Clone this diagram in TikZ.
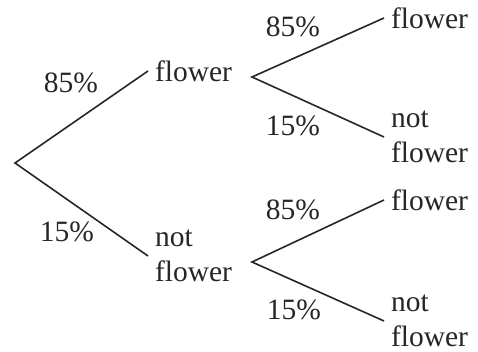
\documentclass[tikz,border=0pt]{standalone}
\usepackage{fontspec}
\setmainfont{Liberation Serif}
\usepackage{xcolor}
\usepackage{tikz}
\begin{document}
\begin{tikzpicture}[x=1pt,y=-1pt,
  every node/.style={text=black!85,font=\fontsize{29.5}{35}\selectfont},
  lbl/.style={inner sep=0pt,outer sep=7pt,anchor=west,align=left},
  pct/.style={inner sep=0pt},
  branch/.style={line width=1.6pt,black!85}]
\useasboundingbox (0,0) rectangle (478,352);
% forks
\coordinate (root) at (15,163);
\coordinate (fork1) at (252,77);
\coordinate (fork2) at (252,262);
% outcomes
\node[lbl] (f) at (148,71) {flower};
\node[lbl] (nf) at (148,256) {not\\flower};
\node[lbl] (ff) at (384,18) {flower};
\node[lbl] (fnf) at (384,137) {not\\flower};
\node[lbl] (nff) at (384,200) {flower};
\node[lbl] (nfnf) at (384,321) {not\\flower};
% branches
\draw[branch] (f.west) -- (root) -- (nf.west);
\draw[branch] (ff.west) -- (fork1) -- (fnf.west);
\draw[branch] (nff.west) -- (fork2) -- (nfnf.west);
% probabilities
\node[pct] (p1) at (71,83) {85\%};
\node[pct] (p2) at (67,232) {15\%};
\node[pct] (p3) at (293,27) {85\%};
\node[pct] (p4) at (293,126) {15\%};
\node[pct] (p5) at (293,210) {85\%};
\node[pct] (p6) at (294,310) {15\%};
\end{tikzpicture}
\end{document}
